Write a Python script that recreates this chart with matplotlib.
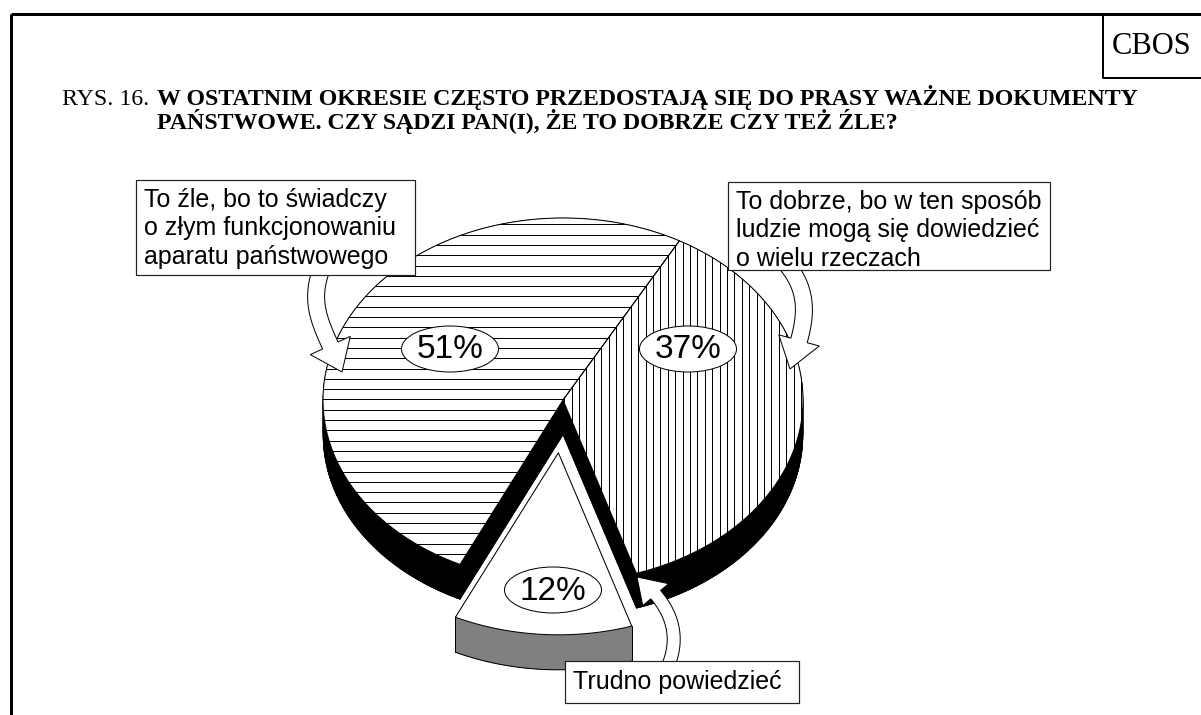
import numpy as np
import matplotlib.pyplot as plt
from matplotlib.patches import Polygon, Rectangle, Ellipse
from matplotlib.collections import PolyCollection

# -------------------------------
# DATA
# -------------------------------
categories = ["To dobrze", "Trudno powiedzieć", "To źle"]
values = [37, 12, 51]
pct_labels = ["37%", "12%", "51%"]
box_lines = [
    ["To dobrze, bo w ten sposób", "ludzie mogą się dowiedzieć", "o wielu rzeczach"],
    ["Trudno powiedzieć"],
    ["To źle, bo to świadczy", "o złym funkcjonowaniu", "aparatu państwowego"],
]
title_prefix = "RYS. 16."
title_lines = ["W OSTATNIM OKRESIE CZĘSTO PRZEDOSTAJĄ SIĘ DO PRASY WAŻNE DOKUMENTY",
               "PAŃSTWOWE. CZY SĄDZI PAN(I), ŻE TO DOBRZE CZY TEŻ ŹLE?"]

# -------------------------------
# LAYOUT (pixels)
# -------------------------------
W, H = 1201, 715
CX, CY, RX, RY, DEPTH = 563, 400, 240, 182, 35
START = 61
EXPLODE = [0, 53, 0]
WALL_COLORS = ["black", "#808080", "black"]
HATCH = ["v", None, "h"]
PCT_POS = [(688, 349), (553, 590), (450, 349)]
BOXES = [(728, 182, 322, 88), (565, 661, 234, 42), (136, 180, 279, 95)]
SANS = "Liberation Sans"
SERIF = "Liberation Serif"
PX = 0.72  # one pixel in points


def ell(t):
    t = np.radians(t)
    return CX + RX * np.cos(t), CY - RY * np.sin(t)


def wedge(a0, a1, off):
    ts = np.linspace(a0, a1, int(abs(a1 - a0)) + 2)
    x, y = ell(ts)
    pts = np.column_stack([np.r_[CX, x], np.r_[CY, y]])
    return pts + off


def wall(ax, pts, color, z):
    d = np.array([0, DEPTH])
    polys = [pts + d]
    n = len(pts)
    for i in range(n):
        p, q = pts[i], pts[(i + 1) % n]
        polys.append([p, q, q + d, p + d])
    ax.add_collection(PolyCollection(polys, facecolors=color, edgecolors=color,
                                     linewidths=0.3, zorder=z))


def bezier(ctrl, n=80):
    p = np.asarray(ctrl, float)
    t = np.linspace(0, 1, n)[:, None]
    return ((1 - t) ** 3 * p[0] + 3 * (1 - t) ** 2 * t * p[1]
            + 3 * (1 - t) * t ** 2 * p[2] + t ** 3 * p[3])


def block_arrow(ax, ctrl, shaft_w, head_w, head_len, z=8):
    pts = bezier(ctrl)
    seg = np.hypot(*np.diff(pts, axis=0).T)
    cum = np.r_[0, np.cumsum(seg)]
    k = np.searchsorted(cum, cum[-1] - head_len)
    tang = np.gradient(pts, axis=0)
    tang /= np.hypot(tang[:, 0], tang[:, 1])[:, None]
    nrm = np.column_stack([-tang[:, 1], tang[:, 0]])
    shaft = pts[:k + 1]
    left = shaft + nrm[:k + 1] * shaft_w / 2
    right = shaft - nrm[:k + 1] * shaft_w / 2
    b = pts[k]
    poly = np.vstack([left, [b + nrm[k] * head_w / 2], [pts[-1]],
                      [b - nrm[k] * head_w / 2], right[::-1]])
    ax.add_patch(Polygon(poly, closed=True, facecolor="white", edgecolor="black",
                         lw=1.0 * PX, zorder=z))


fig = plt.figure(figsize=(W / 100, H / 100), dpi=100)
ax = fig.add_axes([0, 0, 1, 1])
ax.set_xlim(0, W)
ax.set_ylim(H, 0)
ax.axis("off")

# frame and CBOS box
ax.plot([11, W], [14, 14], color="black", lw=3 * PX, solid_capstyle="butt")
ax.plot([11, 11], [14, H], color="black", lw=3 * PX, solid_capstyle="butt")
ax.plot([1103, 1103, W], [14, 78, 78], color="black", lw=2 * PX)
ax.text(1152, 47, "CBOS", family=SERIF, fontsize=22, ha="center", va="center")

# title
ax.text(62, 105, title_prefix, family=SERIF, fontsize=17.2, ha="left", va="baseline")
ax.text(157, 105, title_lines[0], family=SERIF, fontsize=17.2, weight="bold",
        ha="left", va="baseline")
ax.text(157, 129, title_lines[1], family=SERIF, fontsize=17.2, weight="bold",
        ha="left", va="baseline")

# -------------------------------
# 3D PIE
# -------------------------------
a0 = START
for i, v in enumerate(values):
    a1 = a0 - 360 * v / sum(values)
    mid = (a0 + a1) / 2
    mx, my = ell(mid)
    u = np.array([mx - CX, my - CY])
    off = u / np.hypot(*u) * EXPLODE[i]
    pts = wedge(a0, a1, off)
    z = 1 if EXPLODE[i] == 0 else 5
    wall(ax, pts, WALL_COLORS[i], z)
    top = Polygon(pts, closed=True, facecolor="white", edgecolor="none", zorder=z + 1)
    ax.add_patch(top)
    if HATCH[i] == "h":
        for y in np.arange(CY - RY - 4, CY + RY + 60, 10.3):
            ln, = ax.plot([CX - RX - 10, CX + RX + 10], [y, y], color="black",
                          lw=1.0 * PX, zorder=z + 1.5)
            ln.set_clip_path(top)
    elif HATCH[i] == "v":
        for x in np.arange(CX - RX - 3, CX + RX + 10, 7.4):
            ln, = ax.plot([x, x], [CY - RY - 10, CY + RY + 60], color="black",
                          lw=1.0 * PX, zorder=z + 1.5)
            ln.set_clip_path(top)
    ax.add_patch(Polygon(pts, closed=True, fill=False, edgecolor="black",
                         lw=1.0 * PX, zorder=z + 2))
    if EXPLODE[i]:
        arc = pts[1:] + np.array([0, DEPTH])
        ax.plot(arc[:, 0], arc[:, 1], color="black", lw=1.0 * PX, zorder=z + 2)
        for p in (pts[1], pts[-1]):
            ax.plot([p[0], p[0]], [p[1], p[1] + DEPTH], color="black",
                    lw=1.0 * PX, zorder=z + 2)
    a0 = a1

# -------------------------------
# CALLOUT ARROWS
# -------------------------------
block_arrow(ax, [(322, 268), (306, 308), (326, 332), (342, 372)], 17, 44, 30)
block_arrow(ax, [(788, 266), (815, 300), (802, 332), (790, 369)], 17, 42, 30)
block_arrow(ax, [(668, 666), (684, 628), (664, 598), (637, 577)], 13, 34, 27)

# label boxes
for (bx, by, bw, bh), lines in zip(BOXES, box_lines):
    ax.add_patch(Rectangle((bx, by), bw, bh, facecolor="white", edgecolor="#222222",
                           lw=1.2 * PX, zorder=9))
    for j, line in enumerate(lines):
        yy = by + bh / 2 if len(lines) == 1 else by + 20 + 28.5 * j
        ax.text(bx + 8, yy, line, family=SANS, fontsize=18, ha="left",
                va="center", zorder=10)

# percentage ellipses
for (px, py), lab in zip(PCT_POS, pct_labels):
    ax.add_patch(Ellipse((px, py), 97, 46, facecolor="white", edgecolor="black",
                         lw=1.0 * PX, zorder=11))
    ax.text(px, py + 1, lab, family=SANS, fontsize=24, ha="center", va="center",
            zorder=12)

fig.savefig("out.png", dpi=100)
